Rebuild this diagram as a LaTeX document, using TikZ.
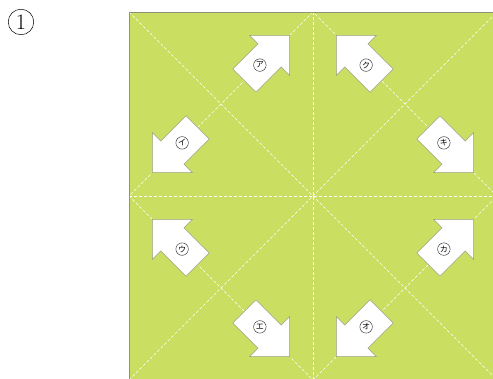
\documentclass[tikz,border=0pt]{standalone}
\usepackage{fontspec}
\newfontfamily\jpfont{Noto Sans CJK JP}
\usetikzlibrary{calc}
\definecolor{paper}{RGB}{202,222,98}
\definecolor{edgegray}{RGB}{140,148,120}
\definecolor{arrowedge}{RGB}{150,160,125}
\begin{document}
\begin{tikzpicture}[x=1pt,y=1pt,
  fold/.style={white, dash pattern=on 3pt off 2pt, line width=0.6pt},
  border/.style={draw=edgegray, line width=0.7pt},
  arrowshape/.style={fill=white, draw=arrowedge, line width=0.5pt, line join=miter},
  lbl/.style={circle, draw=black!80, line width=0.45pt, inner sep=0pt, minimum size=12.5pt, font=\jpfont\fontsize{8}{8}\selectfont},
  numlbl/.style={circle, draw=black, line width=0.5pt, inner sep=0pt, minimum size=25.5pt, font=\fontsize{22}{22}\selectfont}]
\useasboundingbox (0,0) rectangle (493,379);
\begin{scope}
\clip (0,0) rectangle (493,379);
\fill[paper] (129,-1) rectangle (497,367);
\coordinate (SW) at (129,-1);
\coordinate (NW) at (129,367);
\coordinate (NE) at (497,367);
\coordinate (SE) at (497,-1);
\coordinate (T) at (313,367);
\coordinate (B) at (313,-1);
\coordinate (L) at (129,183);
\coordinate (R) at (497,183);
\draw[fold] (SW) -- (NE);
\draw[fold] (NW) -- (SE);
\draw[fold] (T) -- (B);
\draw[fold] (L) -- (R);
\draw[fold] (T) -- (L) -- (B) -- (R) -- cycle;
\draw[border] (SW) -- (NW) -- (NE);
\end{scope}
\coordinate (M1) at (221,275);
\coordinate (M2) at (221,91);
\coordinate (M3) at (405,91);
\coordinate (M4) at (405,275);
\foreach \m/\a/\t/\n in {M1/45/ア/a, M1/225/イ/b, M2/135/ウ/c, M2/-45/エ/d, M3/225/オ/e, M3/45/カ/f, M4/-45/キ/g, M4/135/ク/h} {
  \begin{scope}[shift={(\m)}, rotate=\a]
    \draw[arrowshape] (97,0) -- (68.7,28.3) -- (68.7,16.5) -- (33,16.5) -- (33,-16.5) -- (68.7,-16.5) -- (68.7,-28.3) -- cycle;
    \node[lbl] (lab-\n) at (55,0) {\t};
  \end{scope}
}
\node[numlbl] (num) at (21,357) {1};
\end{tikzpicture}
\end{document}
